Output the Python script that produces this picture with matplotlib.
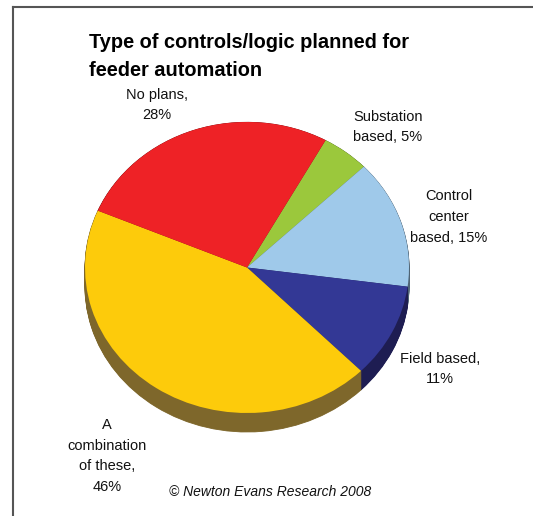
import matplotlib
matplotlib.use("Agg")
import matplotlib.pyplot as plt
import numpy as np

# ---- data ----
categories = ["Substation based", "Control center based", "Field based",
              "A combination of these", "No plans"]
values = [5, 15, 11, 46, 28]
label_texts = ["Substation\nbased, 5%", "Control\ncenter\nbased, 15%",
               "Field based,\n11%", "A\ncombination\nof these,\n46%",
               "No plans,\n28%"]
top_colors = ["#9BC83C", "#9FC9EA", "#333895", "#FDCB0B", "#EE2226"]
side_colors = ["#4D6420", "#4F6475", "#1E1D52", "#7E672B", "#771113"]
title_lines = ["Type of controls/logic planned for", "feeder automation"]
credit = "\u00a9 Newton Evans Research 2008"

W, H = 533, 516
fig = plt.figure(figsize=(W / 100, H / 100), dpi=100)
fig.patch.set_facecolor("white")

# pie geometry in pixels
cx, cy, rx, ry, depth = 247, 267.5, 162, 145.5, 19
ax = fig.add_axes([0, 0, 1, 1])

start = 61
d = depth / ry
for k in np.linspace(d, 0.002, 24):
    ax.pie(values, colors=side_colors, startangle=start, counterclock=False,
           center=(0, -k), radius=1, frame=True,
           wedgeprops=dict(linewidth=0.6))
for p in ax.patches:
    p.set_edgecolor(p.get_facecolor())
ax.pie(values, colors=top_colors, startangle=start, counterclock=False,
       center=(0, 0), radius=1, frame=True,
       wedgeprops=dict(linewidth=0))
ax.set_aspect("auto")
ax.set_xlim(-cx / rx, (W - cx) / rx)
ax.set_ylim((cy - H) / ry, cy / ry)
ax.axis("off")

def fx(x):
    return x / W

def fy(y):
    return 1 - y / H

font = "Liberation Sans"
for i, line in enumerate(title_lines):
    fig.text(fx(89), fy(43 + 27 * i), line, fontsize=14.4, fontweight="bold",
             family=font, ha="left", va="center")

label_pos = [(388, 127), (449, 217), (440, 369), (107, 456), (157, 105)]
for t, (x, y) in zip(label_texts, label_pos):
    fig.text(fx(x), fy(y), t, fontsize=10.5, family=font, ha="center",
             va="center", multialignment="center", linespacing=1.6,
             color="#111111")

fig.text(fx(270), fy(492), credit, fontsize=10, family=font,
         style="italic", ha="center", va="center", color="#111111")

# frame lines
fig.add_artist(plt.Line2D([fx(13), fx(13)], [fy(6.5), 0], color="#555555",
                          linewidth=1.5, transform=fig.transFigure))
fig.add_artist(plt.Line2D([fx(13), 1], [fy(6.5), fy(6.5)], color="#555555",
                          linewidth=1.5, transform=fig.transFigure))

fig.savefig("out.png", dpi=100, facecolor="white")
